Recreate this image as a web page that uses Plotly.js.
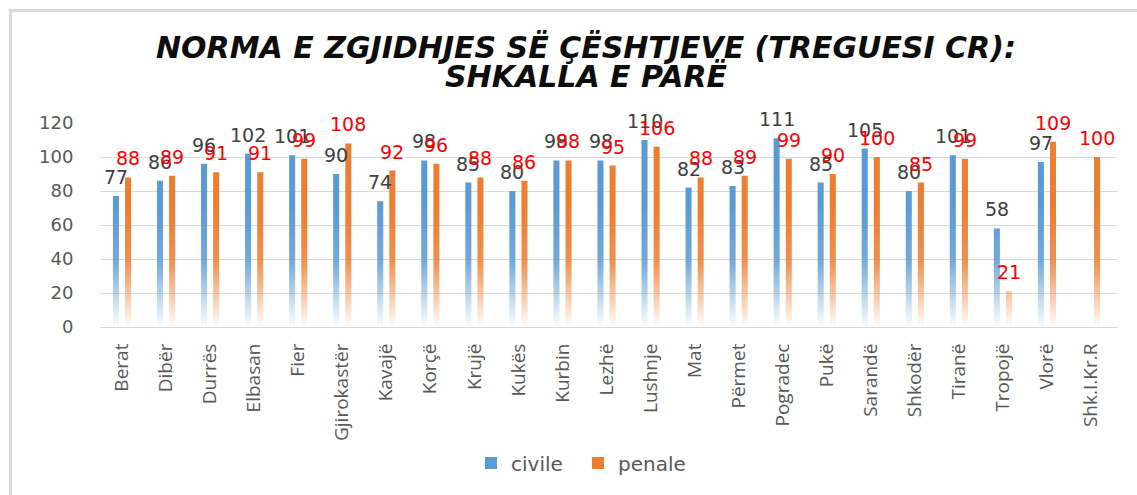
<!DOCTYPE html>
<html>
<head>
<meta charset="utf-8">
<script src="https://cdn.plot.ly/plotly-3.0.1.min.js"></script>
<style>
html,body{margin:0;padding:0;background:#fff;}
#frame{position:absolute;left:9px;top:9px;width:1128px;height:486px;border-top:3px solid #d9d9d9;border-left:3px solid #d9d9d9;box-sizing:border-box;}
#chart{position:absolute;left:0;top:0;width:1137px;height:495px;}
</style>
</head>
<body>
<div id="frame"></div>
<div id="chart"></div>
<script>
var categories = ["Berat","Dibër","Durrës","Elbasan","Fier","Gjirokastër","Kavajë","Korçë","Krujë","Kukës","Kurbin","Lezhë","Lushnje","Mat","Përmet","Pogradec","Pukë","Sarandë","Shkodër","Tiranë","Tropojë","Vlorë","Shk.I.Kr.R"];
var civile = [77,86,96,102,101,90,74,98,85,80,98,98,110,82,83,111,85,105,80,101,58,97,null];
var penale = [88,89,91,91,99,108,92,96,88,86,98,95,106,88,89,99,90,100,85,99,21,109,100];
var yTicks = [0,20,40,60,80,100,120];
var titleLines = ["NORMA E ZGJIDHJES SË ÇËSHTJEVE (TREGUESI CR):", "SHKALLA E PARË"];

var BLUE = "#5B9BD5", ORANGE = "#ED7D31";

var traces = [
  {type:"bar", name:"civile", x:categories, y:civile, marker:{color:BLUE}, hoverinfo:"x+y"},
  {type:"bar", name:"penale", x:categories, y:penale, marker:{color:ORANGE}, hoverinfo:"x+y"}
];

var annotations = [];
categories.forEach(function(c,i){
  if (civile[i] !== null) annotations.push({x:c, y:civile[i], xref:"x", yref:"y", text:String(civile[i]), showarrow:false, yanchor:"bottom", xshift:-6, yshift:6, font:{family:"DejaVu Sans", size:19, color:"#404040"}});
  if (penale[i] !== null) annotations.push({x:c, y:penale[i], xref:"x", yref:"y", text:String(penale[i]), showarrow:false, yanchor:"bottom", xshift:6, yshift:6, font:{family:"DejaVu Sans", size:19, color:"#FF0000"}});
});
var titleY = [1.372, 1.226];
titleLines.forEach(function(t,k){
  annotations.push({text:t, xref:"paper", yref:"paper", x:0.478, y:titleY[k], xanchor:"center", yanchor:"middle", showarrow:false,
    font:{family:"DejaVu Sans", size:30, weight:700, style:"italic", color:"#0d0d0d"}});
});

var layout = {
  width:1137, height:495,
  paper_bgcolor:"rgba(0,0,0,0)", plot_bgcolor:"rgba(0,0,0,0)",
  margin:{l:100, r:20, t:123, b:165},
  barmode:"group", bargap:0.45, bargroupgap:0.5,
  xaxis:{type:"category", tickangle:-90, tickfont:{family:"Open Sans", size:19, color:"#595959"},
         showline:true, linecolor:"#d9d9d9", linewidth:1, ticks:"outside", ticklen:8, tickcolor:"rgba(0,0,0,0)", showgrid:false},
  yaxis:{range:[0,120], tickvals:yTicks, ticktext:yTicks.map(String), tickfont:{family:"DejaVu Sans", size:18, color:"#595959"},
         showgrid:true, gridcolor:"#d9d9d9", gridwidth:1, zeroline:false, ticks:"outside", ticklen:22, tickcolor:"rgba(0,0,0,0)", showline:false},
  showlegend:true,
  legend:{orientation:"h", x:0.47, xanchor:"center", y:-0.667, yanchor:"middle", font:{family:"DejaVu Sans", size:20, color:"#595959"},
          itemwidth:30, entrywidth:62, entrywidthmode:"pixels"},
  annotations:annotations
};

Plotly.newPlot("chart", traces, layout, {displayModeBar:false, staticPlot:true}).then(function(gd){
  var svg = gd.querySelector(".main-svg");
  var defs = svg.querySelector("defs");
  var ns = "http://www.w3.org/2000/svg";
  var plotH = gd._fullLayout._size.h;
  function grad(id, color){
    var g = document.createElementNS(ns, "linearGradient");
    g.setAttribute("id", id);
    g.setAttribute("gradientUnits", "userSpaceOnUse");
    g.setAttribute("x1","0"); g.setAttribute("x2","0");
    g.setAttribute("y1", String(plotH-120)); g.setAttribute("y2", String(plotH));
    [[0,1],[0.45,0.85],[1,0.02]].forEach(function(s){
      var st = document.createElementNS(ns,"stop");
      st.setAttribute("offset", s[0]);
      st.setAttribute("stop-color", color);
      st.setAttribute("stop-opacity", s[1]);
      g.appendChild(st);
    });
    defs.appendChild(g);
  }
  grad("gradBlue", BLUE); grad("gradOrange", ORANGE);
  var barTraces = svg.querySelectorAll("g.trace.bars");
  barTraces.forEach(function(t, k){
    var id = k === 0 ? "gradBlue" : "gradOrange";
    t.querySelectorAll("g.point path").forEach(function(p){ p.style.fill = "url(#" + id + ")"; p.style.fillOpacity = 1; });
  });
});
</script>
</body>
</html>
